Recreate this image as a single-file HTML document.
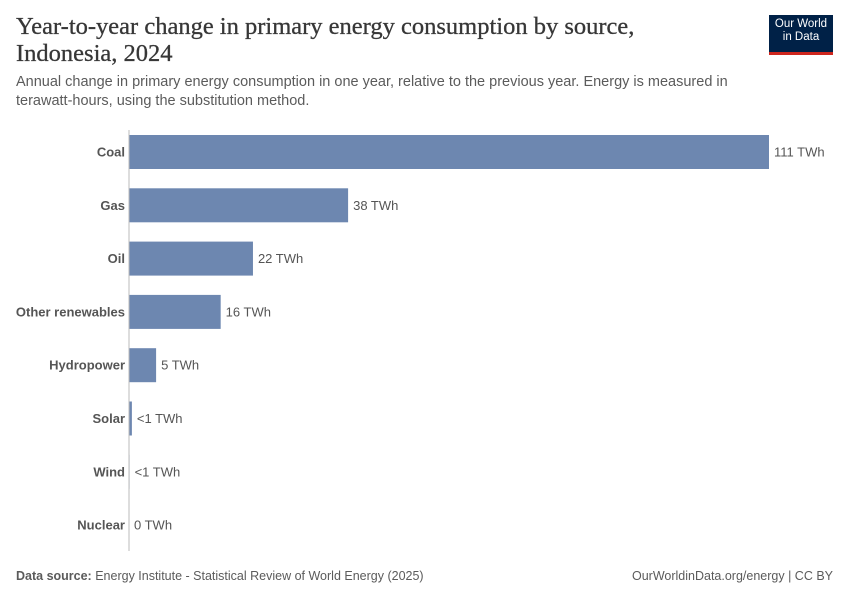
<!DOCTYPE html>
<html><head><meta charset="utf-8"><style>
body{margin:0;width:850px;height:600px;background:#fff;font-family:"Liberation Sans",sans-serif;position:relative;overflow:hidden}
.t{position:absolute;left:16px;top:13px;font-family:"Liberation Serif",serif;font-size:24.5px;line-height:27px;color:#373737;width:720px;font-weight:500;-webkit-text-stroke:0.3px #373737}
.s{position:absolute;left:16px;top:73px;font-size:14.5px;line-height:19px;color:#5b5b5b;width:740px}
.logo{position:absolute;left:769px;top:15px;width:64px;height:34px;background:#002147;border-bottom:3px solid #ce261e;color:#fff;font-size:11.5px;line-height:13px;text-align:center;padding-top:3px;box-sizing:content-box}
.f{position:absolute;top:569px;font-size:12.5px;color:#5b5b5b}
</style></head><body>
<div class="t">Year-to-year change in primary energy consumption by source, Indonesia, 2024</div>
<div class="s">Annual change in primary energy consumption in one year, relative to the previous year. Energy is measured in terawatt-hours, using the substitution method.</div>
<div class="logo">Our World<br>in Data</div>
<svg id="c" width="850" height="600" style="position:absolute;left:0;top:0"></svg>
<div class="f" style="left:16px"><b>Data source:</b> Energy Institute - Statistical Review of World Energy (2025)</div>
<div class="f" style="right:17px">OurWorldinData.org/energy | CC BY</div>
<script>
const categories=["Coal","Gas","Oil","Other renewables","Hydropower","Solar","Wind","Nuclear"];
const values=[111,38,21.5,15.9,4.7,0.5,0.1,0];
const valueLabels=["111 TWh","38 TWh","22 TWh","16 TWh","5 TWh","<1 TWh","<1 TWh","0 TWh"];
const svg=document.getElementById('c');const NS="http://www.w3.org/2000/svg";
const x0=129,x1=769,maxV=Math.max(...values);
const xs=v=>x0+(x1-x0)*v/maxV;
const y0=135,step=53.3,bh=34;
const ys=i=>y0+i*step;
function mk(t,a){const e=document.createElementNS(NS,t);for(const k in a)e.setAttribute(k,a[k]);svg.appendChild(e);return e;}
categories.forEach((c,i)=>{
 const y=ys(i);
 const r=mk('rect',{x:x0,y:y,width:Math.max(0,xs(values[i])-x0),height:bh,fill:'#6d87b0'});
 
 
 const l=mk('text',{x:x0-4,y:y+bh/2+4.5,'text-anchor':'end','font-size':'13','font-weight':'bold',fill:'#555'});
 l.textContent=c;
 
 
 const v=mk('text',{x:xs(values[i])+5,y:y+bh/2+4.5,'font-size':'13',fill:'#555'});
 v.textContent=valueLabels[i];
 
 
});
const ax=mk('line',{x1:x0,x2:x0,y1:130,y2:551,stroke:'#bbb','stroke-width':1});


</script>
</body></html>
